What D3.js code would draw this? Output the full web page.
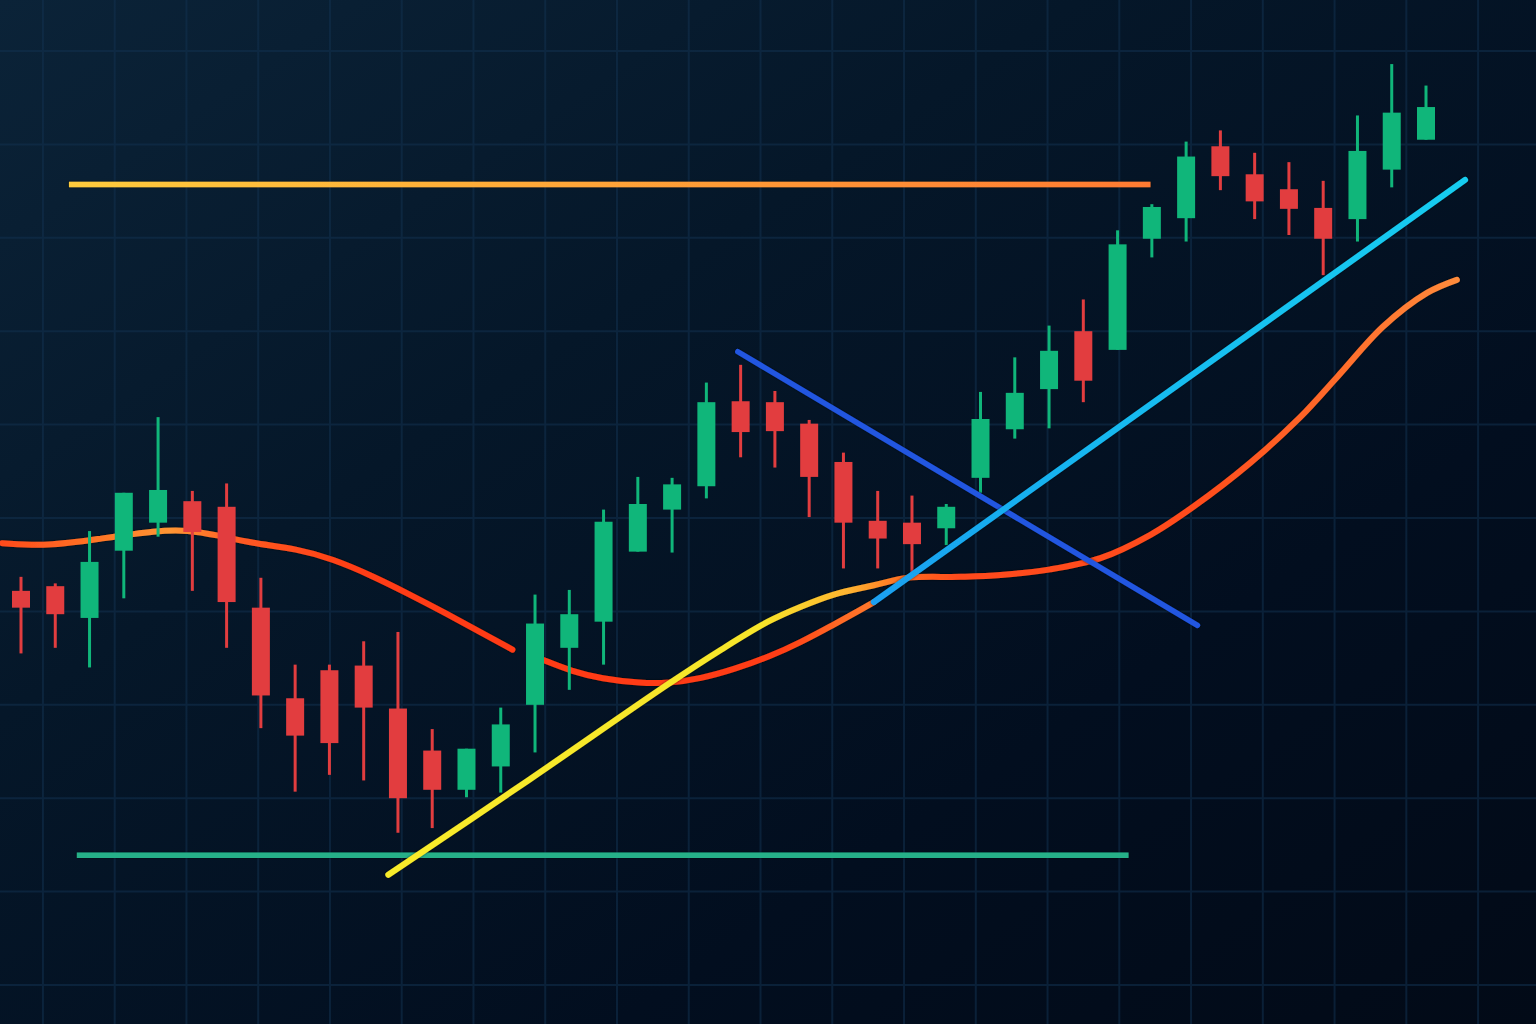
<!DOCTYPE html>
<html><head><meta charset="utf-8">
<script src="https://cdn.jsdelivr.net/npm/d3@7"></script>
<style>html,body{margin:0;padding:0;background:#031226;overflow:hidden}</style>
</head><body>
<svg id="chart" width="1536" height="1024"></svg>
<script>
// ---- data ----
const sessions = d3.range(42);
const open  = [142.2,142.7,139.3,146.5,149.5,151.8,151.2,140.4,130.7,133.7,134.2,129.6,125.1,120.9,123.4,130.0,136.1,138.9,146.4,150.9,153.4,162.5,162.4,160.1,156.0,149.7,149.5,148.9,154.3,159.5,163.8,170.0,168.0,179.9,182.1,189.8,186.8,185.2,183.2,182.0,187.3,190.5];
const high  = [143.7,143.0,148.6,152.7,160.8,152.9,153.7,143.6,134.3,134.3,136.8,137.8,127.4,125.3,129.7,141.8,142.3,150.9,154.4,154.3,164.5,166.4,163.6,160.5,157.0,152.9,152.4,151.5,163.5,167.2,170.6,173.4,180.8,183.6,190.3,191.5,189.1,188.1,186.1,193.1,198.6,196.3];
const low   = [135.5,136.1,134.0,141.4,148.0,142.2,136.1,127.5,120.7,122.5,121.9,116.3,116.8,120.1,120.6,124.9,131.6,134.3,146.4,146.3,152.1,156.5,155.4,150.1,144.6,144.6,143.6,147.1,152.7,158.5,159.6,162.4,168.0,177.9,179.6,185.1,182.0,180.3,176.0,179.6,185.4,190.5];
const close = [140.4,139.7,145.3,152.7,153.0,148.5,141.0,131.0,126.7,125.9,129.7,120.0,120.9,125.3,127.9,138.7,139.7,149.6,151.5,153.6,162.4,159.2,159.3,154.4,149.5,147.8,147.2,151.2,160.6,163.4,167.9,164.7,179.3,183.3,188.7,186.6,183.9,183.1,179.9,189.3,193.4,194.0];

// moving average (slow), two segments
const maA_x = [-0.55,0.79,2.16,4.02,4.87,5.68,6.73,8.07,9.10,10.20,11.30,12.40,13.40,14.34];
const maA_y = [147.3,147.0,147.7,148.7,148.7,148.2,147.3,146.7,145.6,143.9,141.9,139.8,137.8,135.9];
const maB_x = [15.24,16.06,16.93,18.10,18.88,19.84,20.81,21.88,22.76,23.63,24.51,24.89];
const maB_y = [134.8,133.6,132.8,132.3,132.3,132.8,133.8,135.2,136.7,138.4,140.2,141.0];
// rising trend curve (yellow -> orange)
const trend_x = [10.72,14.80,18.88,20.43,21.80,22.76,23.72,24.89,25.88,27.42,28.59,30.04,31.50,32.96,34.21,35.87,37.33,38.41,39.75,41.03,41.90];
const trend_y = [111.8,121.9,132.2,135.9,138.9,140.5,141.8,142.8,143.6,143.7,143.9,144.5,145.7,148.2,151.2,155.9,160.8,165.1,170.5,174.1,175.5];
// straight trendlines
const upLine_x = [24.89,42.14];
const upLine_y = [141.0,186.2];
const downLine_x = [20.92,34.33];
const downLine_y = [167.8,138.5];
// horizontal levels
const resistance = {level:185.7, from:1.40, to:32.96};
const support = {level:113.9, from:1.63, to:32.32};
const priceTicks = d3.range(100, 201, 10);

// ---- scales ----
const W = 1536, H = 1024;
const x = d3.scaleLinear().domain([0, 41]).range([21, 1426]);
const y = d3.scaleLinear().domain([100, 200]).range([985, 51]);

const svg = d3.select('#chart');
const defs = svg.append('defs');

// background
const bg = defs.append('linearGradient').attr('id','bg').attr('x1',0).attr('y1',0).attr('x2',1).attr('y2',1);
[[0,'#0b2338'],[0.35,'#051729'],[0.7,'#020e1f'],[1,'#020a17']].forEach(s=>bg.append('stop').attr('offset',s[0]).attr('stop-color',s[1]));
svg.append('rect').attr('width',W).attr('height',H).attr('fill','url(#bg)');

// soft shadow for lines (user-space region so flat lines still render)
const f = defs.append('filter').attr('id','sh').attr('filterUnits','userSpaceOnUse')
  .attr('x',0).attr('y',0).attr('width',W).attr('height',H);
f.append('feDropShadow').attr('dx',0).attr('dy',0).attr('stdDeviation',1.2).attr('flood-color','#000').attr('flood-opacity',0.7);

// grid
const gridX = d3.range(0.64, 44, 2.094);
const grid = svg.append('g').attr('stroke','#12314f').attr('stroke-width',2).attr('opacity',0.55);
grid.selectAll('.gx').data(gridX).join('line').attr('x1',d=>x(d)).attr('x2',d=>x(d)).attr('y1',0).attr('y2',H);
grid.selectAll('.gy').data(priceTicks).join('line').attr('y1',d=>y(d)).attr('y2',d=>y(d)).attr('x1',0).attr('x2',W);

function hGrad(id, stops){
  const g = defs.append('linearGradient').attr('id',id).attr('gradientUnits','userSpaceOnUse')
    .attr('x1',0).attr('x2',W).attr('y1',0).attr('y2',0);
  stops.forEach(s=>g.append('stop').attr('offset',s[0]/W).attr('stop-color',s[1]));
}
hGrad('resG', [[x(resistance.from),'#ffcc3c'],[x(resistance.to),'#ff7a32']]);
hGrad('maAG', [[0,'#ff4a1c'],[100,'#ff7626'],[170,'#ff9634'],[240,'#ff5a22'],[360,'#ff3c14'],[520,'#ff3a12']]);
hGrad('maBG', [[540,'#ff3a12'],[780,'#ff3c14'],[840,'#ff6a26'],[880,'#ff7a2c']]);
hGrad('trG', [[380,'#f8ec2a'],[760,'#f7e52b'],[850,'#ffb230'],[905,'#ff6a22'],[960,'#ff4a1a'],[1200,'#ff4c1c'],[1330,'#ff6a2a'],[1460,'#ff8c3c']]);
hGrad('upG', [[870,'#1a9ff0'],[1100,'#18b8f0'],[1465,'#19cdf0']]);

// levels
svg.append('line').attr('x1',x(resistance.from)).attr('x2',x(resistance.to))
  .attr('y1',y(resistance.level)).attr('y2',y(resistance.level))
  .attr('stroke','url(#resG)').attr('stroke-width',5.5).attr('filter','url(#sh)');
svg.append('line').attr('x1',x(support.from)).attr('x2',x(support.to))
  .attr('y1',y(support.level)).attr('y2',y(support.level))
  .attr('stroke','#27b088').attr('stroke-width',5.5).attr('filter','url(#sh)');

const curve = d3.line().x(d=>x(d[0])).y(d=>y(d[1])).curve(d3.curveBasis);
const curveT = d3.line().x(d=>x(d[0])).y(d=>y(d[1])).curve(d3.curveCatmullRom.alpha(0.5));
const straight = d3.line().x(d=>x(d[0])).y(d=>y(d[1]));

// moving average below candles
svg.append('path').attr('d', curve(d3.zip(maA_x, maA_y))).attr('fill','none').attr('filter','url(#sh)')
  .attr('stroke','url(#maAG)').attr('stroke-width',6).attr('stroke-linecap','round');
svg.append('path').attr('d', curve(d3.zip(maB_x, maB_y))).attr('fill','none').attr('filter','url(#sh)')
  .attr('stroke','url(#maBG)').attr('stroke-width',6).attr('stroke-linecap','round');

// candles
const up = '#10b67a', down = '#e23d3f';
const bodyW = 18;
const cg = svg.append('g');
const candles = cg.selectAll('g').data(sessions).join('g');
candles.append('line')
  .attr('x1',i=>x(i)).attr('x2',i=>x(i))
  .attr('y1',i=>y(high[i])).attr('y2',i=>y(low[i]))
  .attr('stroke',i=>close[i]>=open[i]?up:down).attr('stroke-width',3);
candles.append('rect')
  .attr('x',i=>x(i)-bodyW/2).attr('width',bodyW)
  .attr('y',i=>y(Math.max(open[i],close[i])))
  .attr('height',i=>Math.max(2, Math.abs(y(open[i])-y(close[i]))))
  .attr('fill',i=>close[i]>=open[i]?up:down);

// trend curves on top
svg.append('path').attr('d', curveT(d3.zip(trend_x, trend_y))).attr('fill','none').attr('filter','url(#sh)')
  .attr('stroke','url(#trG)').attr('stroke-width',6).attr('stroke-linecap','round');
svg.append('path').attr('d', straight(d3.zip(downLine_x, downLine_y))).attr('fill','none').attr('filter','url(#sh)')
  .attr('stroke','#2156e0').attr('stroke-width',5.5).attr('stroke-linecap','round');
svg.append('path').attr('d', straight(d3.zip(upLine_x, upLine_y))).attr('fill','none').attr('filter','url(#sh)')
  .attr('stroke','url(#upG)').attr('stroke-width',6).attr('stroke-linecap','round');
</script>
</body></html>
